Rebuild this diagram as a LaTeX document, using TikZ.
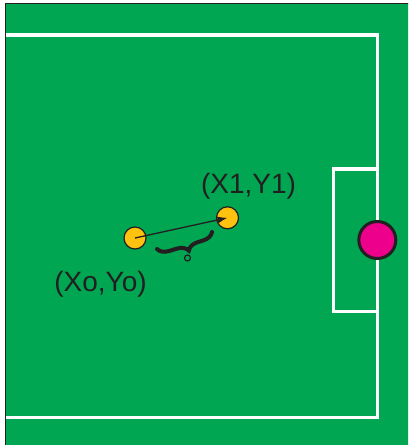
\documentclass[tikz,border=0pt]{standalone}
\usepackage{fontspec}
\setmainfont{Liberation Sans}
\usetikzlibrary{decorations.pathreplacing,arrows.meta}
\definecolor{pitch}{HTML}{00A651}
\definecolor{ink}{HTML}{231F20}
\definecolor{ballpink}{HTML}{EC008C}
\definecolor{robot}{HTML}{FFC20E}
\tikzset{
  fieldline/.style={draw=white, line width=3.3bp},
  player/.style={circle, fill=robot, draw=ink, line width=1.2bp, minimum size=22bp, inner sep=0pt},
  ballnode/.style={circle, fill=ballpink, draw=ink, line width=3bp, minimum size=37bp, inner sep=0pt},
  poslabel/.style={text=ink, font=\fontsize{28bp}{30bp}\selectfont, anchor=base, inner sep=0pt},
}
\begin{document}
\begin{tikzpicture}[x=1bp,y=-1bp]
\useasboundingbox (0,0) rectangle (408,445);
\clip (0,0) rectangle (408,445);
\fill[white] (0,0) rectangle (408,445);
% pitch surface
\filldraw[fill=pitch, draw=ink, line width=1.2bp] (5.5,3.5) rectangle (430,470);
% touch lines
\draw[fieldline] (5.5,35) -- (377.3,35) -- (377.3,417.5) -- (5.5,417.5);
% goal area
\draw[fieldline] (377.3,169) -- (333.3,169) -- (333.3,311.7) -- (377.3,311.7);
% ball on the goal line
\node[ballnode] (ball) at (377.3,240) {};
% player positions
\node[player] (p0) at (135,238) {};
\node[player] (p1) at (227.5,217.8) {};
\draw[ink, line width=1.3bp, -{Latex[length=10bp,width=7bp]}] (p0.center) -- (p1.center);
% displacement brace
\coordinate (b0) at (157,249);
\coordinate (b1) at (212,232);
\draw[ink, line width=4bp, line cap=round, decorate, decoration={brace, mirror, amplitude=11bp, aspect=0.52}] (b0) -- (b1);
\node[circle, fill=pitch, draw=ink, line width=1.2bp, minimum size=6bp, inner sep=0pt] (tipmark) at (187.5,258) {};
% labels
\node[poslabel] (l1) at (248.5,194) {(X1,Y1)};
\node[poslabel] (l0) at (100.5,291) {(Xo,Yo)};
\end{tikzpicture}
\end{document}
